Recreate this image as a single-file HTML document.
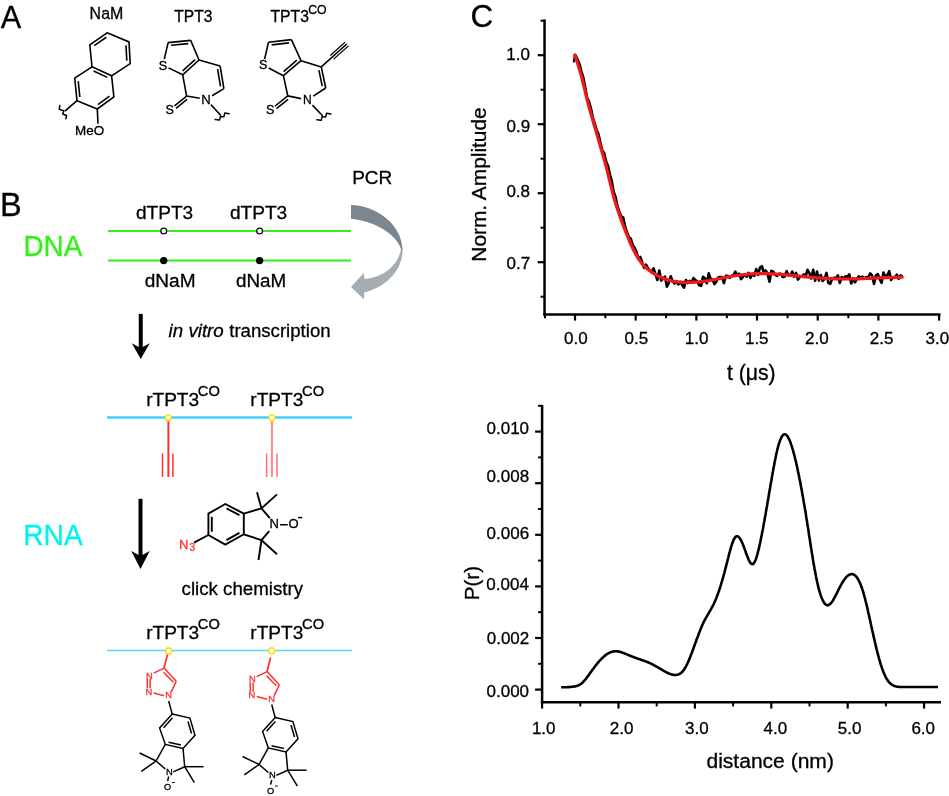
<!DOCTYPE html>
<html><head><meta charset="utf-8"><style>
html,body{margin:0;padding:0;background:#fff;width:949px;height:796px;overflow:hidden}
svg{display:block;will-change:transform}
text{font-family:"Liberation Sans",sans-serif}
</style></head><body>
<svg width="949" height="796" viewBox="0 0 949 796" font-family="Liberation Sans, sans-serif">
<rect width="949" height="796" fill="#fff"/>
<text transform="translate(0.69 27.50) scale(1 1.0)" font-size="30.69" fill="#000" stroke="#000" stroke-width="0.3">A</text>
<text transform="translate(0.09 215.80) scale(1 1.0)" font-size="32.58" fill="#000" stroke="#000" stroke-width="0.3">B</text>
<text transform="translate(470.40 27.30) scale(1 1.0)" font-size="31.42" fill="#000" stroke="#000" stroke-width="0.3">C</text>
<text transform="translate(89.62 18.83) scale(1 1.0)" font-size="15.95" fill="#000" stroke="#000" stroke-width="0.3">NaM</text>
<text transform="translate(174.25 21.76) scale(1 1.0)" font-size="15.60" fill="#000" stroke="#000" stroke-width="0.3">TPT3</text>
<text transform="translate(270.45 21.58) scale(1 1.0)" font-size="15.77" fill="#000" stroke="#000" stroke-width="0.3">TPT3</text>
<text transform="translate(308.18 13.50) scale(1 1.0)" font-size="12.25" fill="#000" stroke="#000" stroke-width="0.3">CO</text>
<path d="M107.10 32.80 L129.00 41.90 L130.20 63.70 L111.60 75.80 L92.00 66.80 L89.80 44.90 Z" fill="none" stroke="#000" stroke-width="1.6" stroke-linejoin="miter"/>
<path d="M111.60 75.80 L113.90 96.90 L97.30 109.00 L77.00 100.70 L74.70 78.10 L92.00 66.80" fill="none" stroke="#000" stroke-width="1.6" stroke-linejoin="miter"/>
<line x1="94.23" y1="45.71" x2="106.34" y2="37.24" stroke="#000" stroke-width="1.6" stroke-linecap="butt"/>
<line x1="125.98" y1="45.35" x2="126.82" y2="60.61" stroke="#000" stroke-width="1.6" stroke-linecap="butt"/>
<line x1="93.60" y1="71.06" x2="107.32" y2="77.36" stroke="#000" stroke-width="1.6" stroke-linecap="butt"/>
<line x1="79.84" y1="96.99" x2="78.23" y2="81.17" stroke="#000" stroke-width="1.6" stroke-linecap="butt"/>
<line x1="109.53" y1="96.13" x2="97.91" y2="104.60" stroke="#000" stroke-width="1.6" stroke-linecap="butt"/>
<line x1="77.00" y1="100.70" x2="64.90" y2="111.10" stroke="#000" stroke-width="1.6" stroke-linecap="butt"/>
<path d="M59.84 105.4 L59.2 109.35 L63.8 110.7 L62.7 114.0 L66.66 115.5 L65.8 118.8" fill="none" stroke="#000" stroke-width="1.5" stroke-linejoin="round" stroke-linecap="round"/>
<line x1="97.30" y1="109.00" x2="98.00" y2="123.70" stroke="#000" stroke-width="1.6" stroke-linecap="butt"/>
<text transform="translate(75.00 135.30) scale(1 1.0)" font-size="13.45" fill="#000" stroke="#000" stroke-width="0.3">MeO</text>
<line x1="168.10" y1="42.60" x2="190.70" y2="40.40" stroke="#000" stroke-width="1.6" stroke-linecap="butt"/>
<line x1="190.70" y1="40.40" x2="199.00" y2="60.00" stroke="#000" stroke-width="1.6" stroke-linecap="butt"/>
<line x1="199.00" y1="60.00" x2="182.70" y2="74.80" stroke="#000" stroke-width="1.6" stroke-linecap="butt"/>
<line x1="182.70" y1="74.80" x2="168.48" y2="67.90" stroke="#000" stroke-width="1.6" stroke-linecap="butt"/>
<line x1="164.29" y1="59.16" x2="168.10" y2="42.60" stroke="#000" stroke-width="1.6" stroke-linecap="butt"/>
<line x1="171.10" y1="45.32" x2="188.28" y2="43.65" stroke="#000" stroke-width="1.6" stroke-linecap="butt"/>
<line x1="195.03" y1="59.55" x2="182.64" y2="70.80" stroke="#000" stroke-width="1.6" stroke-linecap="butt"/>
<line x1="199.00" y1="60.00" x2="220.10" y2="66.00" stroke="#000" stroke-width="1.6" stroke-linecap="butt"/>
<line x1="220.10" y1="66.00" x2="223.90" y2="88.60" stroke="#000" stroke-width="1.6" stroke-linecap="butt"/>
<line x1="223.90" y1="88.60" x2="212.05" y2="95.70" stroke="#000" stroke-width="1.6" stroke-linecap="butt"/>
<line x1="199.74" y1="98.25" x2="186.60" y2="96.05" stroke="#000" stroke-width="1.6" stroke-linecap="butt"/>
<line x1="186.60" y1="96.05" x2="182.70" y2="74.80" stroke="#000" stroke-width="1.6" stroke-linecap="butt"/>
<line x1="217.60" y1="69.21" x2="220.49" y2="86.39" stroke="#000" stroke-width="1.6" stroke-linecap="butt"/>
<line x1="186.60" y1="96.05" x2="174.46" y2="105.92" stroke="#000" stroke-width="1.6" stroke-linecap="butt"/>
<line x1="186.97" y1="99.48" x2="176.04" y2="108.36" stroke="#000" stroke-width="1.6" stroke-linecap="butt"/>
<text transform="translate(158.70 69.54) scale(1 1.0)" font-size="12.60" fill="#000" stroke="#000" stroke-width="0.3">S</text>
<text transform="translate(165.60 114.04) scale(1 1.0)" font-size="12.60" fill="#000" stroke="#000" stroke-width="0.3">S</text>
<text transform="translate(201.28 103.84) scale(1 1.0)" font-size="13.20" fill="#000" stroke="#000" stroke-width="0.3">N</text>
<line x1="210.91" y1="104.62" x2="220.85" y2="115.50" stroke="#000" stroke-width="1.6" stroke-linecap="butt"/>
<path d="M215.10 119.45 L219.50 120.10 L220.40 116.40 L223.90 116.80 L224.80 113.10 L229.20 113.70" fill="none" stroke="#000" stroke-width="1.5" stroke-linejoin="round" stroke-linecap="round"/>
<line x1="268.50" y1="42.20" x2="291.40" y2="39.60" stroke="#000" stroke-width="1.6" stroke-linecap="butt"/>
<line x1="291.40" y1="39.60" x2="301.00" y2="60.70" stroke="#000" stroke-width="1.6" stroke-linecap="butt"/>
<line x1="301.00" y1="60.70" x2="283.40" y2="75.70" stroke="#000" stroke-width="1.6" stroke-linecap="butt"/>
<line x1="283.40" y1="75.70" x2="268.69" y2="67.98" stroke="#000" stroke-width="1.6" stroke-linecap="butt"/>
<line x1="264.60" y1="59.06" x2="268.50" y2="42.20" stroke="#000" stroke-width="1.6" stroke-linecap="butt"/>
<line x1="271.59" y1="44.87" x2="288.99" y2="42.89" stroke="#000" stroke-width="1.6" stroke-linecap="butt"/>
<line x1="296.94" y1="60.22" x2="283.57" y2="71.62" stroke="#000" stroke-width="1.6" stroke-linecap="butt"/>
<line x1="301.00" y1="60.70" x2="321.30" y2="66.90" stroke="#000" stroke-width="1.6" stroke-linecap="butt"/>
<line x1="321.30" y1="66.90" x2="325.70" y2="88.00" stroke="#000" stroke-width="1.6" stroke-linecap="butt"/>
<line x1="325.70" y1="88.00" x2="313.26" y2="96.12" stroke="#000" stroke-width="1.6" stroke-linecap="butt"/>
<line x1="301.13" y1="98.65" x2="287.80" y2="95.90" stroke="#000" stroke-width="1.6" stroke-linecap="butt"/>
<line x1="287.80" y1="95.90" x2="283.40" y2="75.70" stroke="#000" stroke-width="1.6" stroke-linecap="butt"/>
<line x1="318.89" y1="70.04" x2="322.24" y2="86.08" stroke="#000" stroke-width="1.6" stroke-linecap="butt"/>
<line x1="287.80" y1="95.90" x2="274.88" y2="106.25" stroke="#000" stroke-width="1.6" stroke-linecap="butt"/>
<line x1="288.06" y1="99.41" x2="276.44" y2="108.72" stroke="#000" stroke-width="1.6" stroke-linecap="butt"/>
<text transform="translate(259.00 69.44) scale(1 1.0)" font-size="12.60" fill="#000" stroke="#000" stroke-width="0.3">S</text>
<text transform="translate(266.00 114.34) scale(1 1.0)" font-size="12.60" fill="#000" stroke="#000" stroke-width="0.3">S</text>
<text transform="translate(303.06 104.08) scale(1 1.0)" font-size="12.00" fill="#000" stroke="#000" stroke-width="0.3">N</text>
<line x1="312.40" y1="105.13" x2="322.60" y2="115.70" stroke="#000" stroke-width="1.6" stroke-linecap="butt"/>
<path d="M316.85 119.65 L321.25 120.30 L322.15 116.60 L325.65 117.00 L326.55 113.30 L330.95 113.90" fill="none" stroke="#000" stroke-width="1.5" stroke-linejoin="round" stroke-linecap="round"/>
<line x1="321.30" y1="66.90" x2="346.80" y2="44.00" stroke="#000" stroke-width="1.6" stroke-linecap="butt"/>
<line x1="330.34" y1="55.42" x2="345.13" y2="42.14" stroke="#000" stroke-width="1.3" stroke-linecap="butt"/>
<line x1="333.68" y1="59.14" x2="348.47" y2="45.86" stroke="#000" stroke-width="1.3" stroke-linecap="butt"/>
<text transform="translate(23.46 256.00) scale(1 1.05)" font-size="27.89" fill="#32f018" stroke="#32f018" stroke-width="0.3">DNA</text>
<text transform="translate(23.35 544.80) scale(1 1.04)" font-size="28.09" fill="#00f2f2" stroke="#00f2f2" stroke-width="0.3">RNA</text>
<line x1="108.00" y1="230.90" x2="351.00" y2="230.90" stroke="#32f018" stroke-width="2.0" stroke-linecap="butt"/>
<line x1="108.00" y1="260.40" x2="351.00" y2="260.40" stroke="#32f018" stroke-width="2.0" stroke-linecap="butt"/>
<circle cx="163.7" cy="231.1" r="2.9" fill="#fff" stroke="#000" stroke-width="1.2"/>
<circle cx="163.7" cy="260.6" r="3.7" fill="#000"/>
<circle cx="259.6" cy="231.1" r="2.9" fill="#fff" stroke="#000" stroke-width="1.2"/>
<circle cx="259.6" cy="260.6" r="3.7" fill="#000"/>
<text transform="translate(136.00 218.97) scale(1 1.0)" font-size="19.04" fill="#000" stroke="#000" stroke-width="0.3">dTPT3</text>
<text transform="translate(229.90 218.90) scale(1 1.0)" font-size="19.11" fill="#000" stroke="#000" stroke-width="0.3">dTPT3</text>
<text transform="translate(144.76 286.84) scale(1 1.0)" font-size="19.06" fill="#000" stroke="#000" stroke-width="0.3">dNaM</text>
<text transform="translate(235.91 286.80) scale(1 1.0)" font-size="18.83" fill="#000" stroke="#000" stroke-width="0.3">dNaM</text>
<text transform="translate(352.14 183.84) scale(1 1.0)" font-size="19.01" fill="#000" stroke="#000" stroke-width="0.3">PCR</text>
<path d="M351 204.9 C377 205.5 402.5 225 402.5 250.3 L401.3 250.3 C399.5 239 380 221.5 351 218.8 Z" fill="#7a8790"/>
<path d="M402.5 249.8 C403 270 385 288 364.4 292.3 L363.8 299.25 L351 286.9 L363.8 272.9 L364.4 279.1 C381 277.5 397.5 267.5 400.8 249.8 Z" fill="#a3adb3"/>
<line x1="140.75" y1="313.90" x2="140.75" y2="349.00" stroke="#000" stroke-width="4.0" stroke-linecap="butt"/>
<path d="M131.75 343.20 L140.75 358.90 L149.75 343.20 L140.75 348.00 Z" fill="#000"/>
<line x1="140.50" y1="498.80" x2="140.50" y2="557.10" stroke="#000" stroke-width="4.0" stroke-linecap="butt"/>
<path d="M131.30 551.10 L140.50 568.90 L149.70 551.10 L140.50 556.10 Z" fill="#000"/>
<text transform="translate(168.60 336.80) scale(1 1.0)" font-size="18.74" fill="#000" font-style="italic" stroke="#000" stroke-width="0.3">in vitro</text>
<text transform="translate(229.22 336.80) scale(1 1.0)" font-size="18.63" fill="#000" stroke="#000" stroke-width="0.3">transcription</text>
<text transform="translate(146.13 405.80) scale(1 1.0)" font-size="19.08" fill="#000" stroke="#000" stroke-width="0.3">rTPT3</text>
<text transform="translate(197.85 396.25) scale(1 1.0)" font-size="14.70" fill="#000" stroke="#000" stroke-width="0.3">CO</text>
<text transform="translate(250.33 405.80) scale(1 1.0)" font-size="19.08" fill="#000" stroke="#000" stroke-width="0.3">rTPT3</text>
<text transform="translate(302.05 396.25) scale(1 1.0)" font-size="14.70" fill="#000" stroke="#000" stroke-width="0.3">CO</text>
<line x1="107.00" y1="417.60" x2="352.00" y2="417.60" stroke="#40d0f8" stroke-width="2.5" stroke-linecap="butt"/>
<line x1="168.40" y1="421.00" x2="168.40" y2="477.00" stroke="#ff3030" stroke-width="2.0" stroke-linecap="butt"/>
<line x1="162.50" y1="453.40" x2="162.50" y2="477.00" stroke="#ff3030" stroke-width="1.5" stroke-linecap="butt"/>
<line x1="172.90" y1="453.40" x2="172.90" y2="477.00" stroke="#ff3030" stroke-width="1.5" stroke-linecap="butt"/>
<circle cx="168.4" cy="417.8" r="2.8" fill="#fff" stroke="#ffe014" stroke-width="1.7"/>
<line x1="271.90" y1="421.00" x2="271.90" y2="477.00" stroke="#ff8a8a" stroke-width="2.0" stroke-linecap="butt"/>
<line x1="266.65" y1="453.40" x2="266.65" y2="477.00" stroke="#ff7070" stroke-width="1.5" stroke-linecap="butt"/>
<line x1="277.00" y1="453.40" x2="277.00" y2="477.00" stroke="#ff7070" stroke-width="1.5" stroke-linecap="butt"/>
<circle cx="271.9" cy="417.8" r="2.8" fill="#fff" stroke="#ffe014" stroke-width="1.7"/>
<path d="M225.30 504.00 L243.80 513.60 L243.80 534.30 L225.30 544.60 L208.40 535.00 L208.40 513.60 Z" fill="none" stroke="#000" stroke-width="1.9" stroke-linejoin="miter"/>
<line x1="226.51" y1="508.46" x2="239.46" y2="515.18" stroke="#000" stroke-width="1.9" stroke-linecap="butt"/>
<line x1="239.37" y1="532.87" x2="226.42" y2="540.08" stroke="#000" stroke-width="1.9" stroke-linecap="butt"/>
<line x1="211.80" y1="531.79" x2="211.80" y2="516.81" stroke="#000" stroke-width="1.9" stroke-linecap="butt"/>
<line x1="243.80" y1="513.60" x2="261.50" y2="508.40" stroke="#000" stroke-width="1.9" stroke-linecap="butt"/>
<line x1="261.50" y1="540.20" x2="243.80" y2="534.30" stroke="#000" stroke-width="1.9" stroke-linecap="butt"/>
<line x1="261.50" y1="508.40" x2="269.85" y2="518.20" stroke="#000" stroke-width="1.9" stroke-linecap="butt"/>
<line x1="269.20" y1="531.10" x2="261.50" y2="540.20" stroke="#000" stroke-width="1.9" stroke-linecap="butt"/>
<line x1="261.50" y1="508.40" x2="257.00" y2="492.20" stroke="#000" stroke-width="1.9" stroke-linecap="butt"/>
<line x1="261.50" y1="508.40" x2="277.00" y2="494.40" stroke="#000" stroke-width="1.9" stroke-linecap="butt"/>
<line x1="261.50" y1="540.20" x2="258.50" y2="560.00" stroke="#000" stroke-width="1.9" stroke-linecap="butt"/>
<line x1="261.50" y1="540.20" x2="277.00" y2="554.20" stroke="#000" stroke-width="1.9" stroke-linecap="butt"/>
<text transform="translate(269.60 528.27) scale(1 1.0)" font-size="13.00" fill="#000" stroke="#000" stroke-width="0.3">N</text>
<line x1="280.00" y1="524.75" x2="287.80" y2="524.75" stroke="#000" stroke-width="1.5" stroke-linecap="butt"/>
<text transform="translate(288.40 528.38) scale(1 1.0)" font-size="13.00" fill="#000" stroke="#000" stroke-width="0.3">O</text>
<line x1="298.10" y1="517.60" x2="302.30" y2="517.60" stroke="#000" stroke-width="1.5" stroke-linecap="butt"/>
<line x1="208.40" y1="535.00" x2="194.00" y2="542.60" stroke="#000" stroke-width="1.9" stroke-linecap="butt"/>
<text transform="translate(179.10 549.32) scale(1 1.0)" font-size="13.00" fill="#ff3030" stroke="#ff3030" stroke-width="0.3">N</text>
<text transform="translate(189.45 550.74) scale(1 1.0)" font-size="10.00" fill="#ff3030" stroke="#ff3030" stroke-width="0.3">3</text>
<text transform="translate(181.61 594.90) scale(1 1.0)" font-size="18.68" fill="#000" stroke="#000" stroke-width="0.3">click chemistry</text>
<text transform="translate(146.13 638.60) scale(1 1.0)" font-size="19.08" fill="#000" stroke="#000" stroke-width="0.3">rTPT3</text>
<text transform="translate(197.85 628.90) scale(1 1.0)" font-size="14.70" fill="#000" stroke="#000" stroke-width="0.3">CO</text>
<text transform="translate(250.33 638.60) scale(1 1.0)" font-size="19.08" fill="#000" stroke="#000" stroke-width="0.3">rTPT3</text>
<text transform="translate(302.05 628.90) scale(1 1.0)" font-size="14.70" fill="#000" stroke="#000" stroke-width="0.3">CO</text>
<line x1="107.00" y1="650.55" x2="352.00" y2="650.55" stroke="#5ad8fa" stroke-width="1.6" stroke-linecap="butt"/>
<line x1="167.60" y1="654.10" x2="164.00" y2="668.10" stroke="#ff3030" stroke-width="1.8" stroke-linecap="butt"/>
<line x1="164.00" y1="668.10" x2="153.70" y2="673.20" stroke="#ff3030" stroke-width="1.5" stroke-linecap="butt"/>
<line x1="164.00" y1="668.10" x2="176.30" y2="681.30" stroke="#ff3030" stroke-width="1.5" stroke-linecap="butt"/>
<line x1="163.50" y1="672.30" x2="173.40" y2="682.20" stroke="#ff3030" stroke-width="1.5" stroke-linecap="butt"/>
<line x1="176.30" y1="681.30" x2="171.10" y2="692.10" stroke="#ff3030" stroke-width="1.5" stroke-linecap="butt"/>
<line x1="164.00" y1="695.80" x2="153.70" y2="693.00" stroke="#ff3030" stroke-width="1.5" stroke-linecap="butt"/>
<line x1="147.30" y1="678.90" x2="147.30" y2="688.30" stroke="#ff3030" stroke-width="1.5" stroke-linecap="butt"/>
<line x1="150.10" y1="678.90" x2="150.10" y2="688.30" stroke="#ff3030" stroke-width="1.5" stroke-linecap="butt"/>
<text transform="translate(146.00 678.83) scale(1 1.0)" font-size="9.40" fill="#ff3030" stroke="#ff3030" stroke-width="0.3">N</text>
<text transform="translate(145.60 694.83) scale(1 1.0)" font-size="9.40" fill="#ff3030" stroke="#ff3030" stroke-width="0.3">N</text>
<text transform="translate(165.30 698.13) scale(1 1.0)" font-size="9.40" fill="#ff3030" stroke="#ff3030" stroke-width="0.3">N</text>
<line x1="168.70" y1="701.00" x2="172.20" y2="714.10" stroke="#000" stroke-width="1.5" stroke-linecap="butt"/>
<path d="M172.20 714.10 L189.90 718.10 L195.00 735.30 L183.00 748.40 L165.30 744.40 L159.60 727.90 Z" fill="none" stroke="#000" stroke-width="1.5" stroke-linejoin="miter"/>
<line x1="172.38" y1="718.06" x2="163.56" y2="727.72" stroke="#000" stroke-width="1.5" stroke-linecap="butt"/>
<line x1="187.98" y1="721.48" x2="191.55" y2="733.52" stroke="#000" stroke-width="1.5" stroke-linecap="butt"/>
<line x1="180.96" y1="745.07" x2="168.57" y2="742.27" stroke="#000" stroke-width="1.5" stroke-linecap="butt"/>
<line x1="165.30" y1="744.40" x2="156.10" y2="761.00" stroke="#000" stroke-width="1.5" stroke-linecap="butt"/>
<line x1="184.70" y1="766.70" x2="183.00" y2="748.40" stroke="#000" stroke-width="1.5" stroke-linecap="butt"/>
<line x1="156.10" y1="761.00" x2="165.30" y2="769.00" stroke="#000" stroke-width="1.5" stroke-linecap="butt"/>
<line x1="173.30" y1="771.90" x2="184.70" y2="766.70" stroke="#000" stroke-width="1.5" stroke-linecap="butt"/>
<line x1="156.10" y1="761.00" x2="139.60" y2="753.00" stroke="#000" stroke-width="1.5" stroke-linecap="butt"/>
<line x1="156.10" y1="761.00" x2="141.30" y2="771.30" stroke="#000" stroke-width="1.5" stroke-linecap="butt"/>
<line x1="184.70" y1="766.70" x2="203.60" y2="766.70" stroke="#000" stroke-width="1.5" stroke-linecap="butt"/>
<line x1="184.70" y1="766.70" x2="194.40" y2="782.70" stroke="#000" stroke-width="1.5" stroke-linecap="butt"/>
<text transform="translate(165.90 774.53) scale(1 1.0)" font-size="9.40" fill="#000" stroke="#000" stroke-width="0.3">N</text>
<line x1="168.70" y1="776.50" x2="167.60" y2="781.00" stroke="#000" stroke-width="1.5" stroke-linecap="butt"/>
<text transform="translate(164.02 790.47) scale(1 1.0)" font-size="9.20" fill="#000" stroke="#000" stroke-width="0.3">O</text>
<line x1="172.00" y1="782.50" x2="174.80" y2="782.50" stroke="#000" stroke-width="1.0" stroke-linecap="butt"/>
<line x1="270.60" y1="657.60" x2="267.00" y2="671.60" stroke="#ff3030" stroke-width="1.8" stroke-linecap="butt"/>
<line x1="267.00" y1="671.60" x2="256.70" y2="676.70" stroke="#ff3030" stroke-width="1.5" stroke-linecap="butt"/>
<line x1="267.00" y1="671.60" x2="279.30" y2="684.80" stroke="#ff3030" stroke-width="1.5" stroke-linecap="butt"/>
<line x1="266.50" y1="675.80" x2="276.40" y2="685.70" stroke="#ff3030" stroke-width="1.5" stroke-linecap="butt"/>
<line x1="279.30" y1="684.80" x2="274.10" y2="695.60" stroke="#ff3030" stroke-width="1.5" stroke-linecap="butt"/>
<line x1="267.00" y1="699.30" x2="256.70" y2="696.50" stroke="#ff3030" stroke-width="1.5" stroke-linecap="butt"/>
<line x1="250.30" y1="682.40" x2="250.30" y2="691.80" stroke="#ff3030" stroke-width="1.5" stroke-linecap="butt"/>
<line x1="253.10" y1="682.40" x2="253.10" y2="691.80" stroke="#ff3030" stroke-width="1.5" stroke-linecap="butt"/>
<text transform="translate(249.00 682.33) scale(1 1.0)" font-size="9.40" fill="#ff3030" stroke="#ff3030" stroke-width="0.3">N</text>
<text transform="translate(248.60 698.33) scale(1 1.0)" font-size="9.40" fill="#ff3030" stroke="#ff3030" stroke-width="0.3">N</text>
<text transform="translate(268.30 701.63) scale(1 1.0)" font-size="9.40" fill="#ff3030" stroke="#ff3030" stroke-width="0.3">N</text>
<line x1="271.70" y1="704.50" x2="275.20" y2="717.60" stroke="#000" stroke-width="1.5" stroke-linecap="butt"/>
<path d="M275.20 717.60 L292.90 721.60 L298.00 738.80 L286.00 751.90 L268.30 747.90 L262.60 731.40 Z" fill="none" stroke="#000" stroke-width="1.5" stroke-linejoin="miter"/>
<line x1="275.38" y1="721.56" x2="266.56" y2="731.22" stroke="#000" stroke-width="1.5" stroke-linecap="butt"/>
<line x1="290.98" y1="724.98" x2="294.55" y2="737.02" stroke="#000" stroke-width="1.5" stroke-linecap="butt"/>
<line x1="283.96" y1="748.57" x2="271.57" y2="745.77" stroke="#000" stroke-width="1.5" stroke-linecap="butt"/>
<line x1="268.30" y1="747.90" x2="259.10" y2="764.50" stroke="#000" stroke-width="1.5" stroke-linecap="butt"/>
<line x1="287.70" y1="770.20" x2="286.00" y2="751.90" stroke="#000" stroke-width="1.5" stroke-linecap="butt"/>
<line x1="259.10" y1="764.50" x2="268.30" y2="772.50" stroke="#000" stroke-width="1.5" stroke-linecap="butt"/>
<line x1="276.30" y1="775.40" x2="287.70" y2="770.20" stroke="#000" stroke-width="1.5" stroke-linecap="butt"/>
<line x1="259.10" y1="764.50" x2="242.60" y2="756.50" stroke="#000" stroke-width="1.5" stroke-linecap="butt"/>
<line x1="259.10" y1="764.50" x2="244.30" y2="774.80" stroke="#000" stroke-width="1.5" stroke-linecap="butt"/>
<line x1="287.70" y1="770.20" x2="306.60" y2="770.20" stroke="#000" stroke-width="1.5" stroke-linecap="butt"/>
<line x1="287.70" y1="770.20" x2="297.40" y2="786.20" stroke="#000" stroke-width="1.5" stroke-linecap="butt"/>
<text transform="translate(268.90 778.03) scale(1 1.0)" font-size="9.40" fill="#000" stroke="#000" stroke-width="0.3">N</text>
<line x1="271.70" y1="780.00" x2="270.60" y2="784.50" stroke="#000" stroke-width="1.5" stroke-linecap="butt"/>
<text transform="translate(267.02 793.97) scale(1 1.0)" font-size="9.20" fill="#000" stroke="#000" stroke-width="0.3">O</text>
<line x1="275.00" y1="786.00" x2="277.80" y2="786.00" stroke="#000" stroke-width="1.0" stroke-linecap="butt"/>
<circle cx="168.7" cy="650.9" r="3.0" fill="#fff" stroke="#ffe014" stroke-width="1.6"/>
<circle cx="271.7" cy="650.9" r="3.0" fill="#fff" stroke="#ffe014" stroke-width="1.6"/>
<line x1="544.55" y1="19.50" x2="544.55" y2="315.60" stroke="#000" stroke-width="2.5" stroke-linecap="butt"/>
<line x1="543.30" y1="314.40" x2="940.50" y2="314.40" stroke="#000" stroke-width="2.5" stroke-linecap="butt"/>
<line x1="537.65" y1="55.20" x2="544.55" y2="55.20" stroke="#000" stroke-width="2.2" stroke-linecap="butt"/>
<text transform="translate(506.33 59.75) scale(1 1.0)" font-size="17.00" fill="#000" stroke="#000" stroke-width="0.3">1.0</text>
<line x1="537.65" y1="124.20" x2="544.55" y2="124.20" stroke="#000" stroke-width="2.2" stroke-linecap="butt"/>
<text transform="translate(506.47 131.55) scale(1 1.0)" font-size="17.00" fill="#000" stroke="#000" stroke-width="0.3">0.9</text>
<line x1="537.65" y1="193.20" x2="544.55" y2="193.20" stroke="#000" stroke-width="2.2" stroke-linecap="butt"/>
<text transform="translate(506.41 197.05) scale(1 1.0)" font-size="17.00" fill="#000" stroke="#000" stroke-width="0.3">0.8</text>
<line x1="537.65" y1="262.20" x2="544.55" y2="262.20" stroke="#000" stroke-width="2.2" stroke-linecap="butt"/>
<text transform="translate(506.52 268.80) scale(1 1.0)" font-size="17.00" fill="#000" stroke="#000" stroke-width="0.3">0.7</text>
<line x1="540.55" y1="20.70" x2="544.55" y2="20.70" stroke="#000" stroke-width="2.0" stroke-linecap="butt"/>
<line x1="540.55" y1="89.70" x2="544.55" y2="89.70" stroke="#000" stroke-width="2.0" stroke-linecap="butt"/>
<line x1="540.55" y1="158.70" x2="544.55" y2="158.70" stroke="#000" stroke-width="2.0" stroke-linecap="butt"/>
<line x1="540.55" y1="227.70" x2="544.55" y2="227.70" stroke="#000" stroke-width="2.0" stroke-linecap="butt"/>
<line x1="540.55" y1="296.70" x2="544.55" y2="296.70" stroke="#000" stroke-width="2.0" stroke-linecap="butt"/>
<line x1="575.00" y1="314.40" x2="575.00" y2="320.60" stroke="#000" stroke-width="2.2" stroke-linecap="butt"/>
<text transform="translate(564.08 343.85) scale(1 1.0)" font-size="17.00" fill="#000" stroke="#000" stroke-width="0.3">0.0</text>
<line x1="635.68" y1="314.40" x2="635.68" y2="320.60" stroke="#000" stroke-width="2.2" stroke-linecap="butt"/>
<text transform="translate(624.61 343.85) scale(1 1.0)" font-size="17.00" fill="#000" stroke="#000" stroke-width="0.3">0.5</text>
<line x1="696.36" y1="314.40" x2="696.36" y2="320.60" stroke="#000" stroke-width="2.2" stroke-linecap="butt"/>
<text transform="translate(684.87 343.85) scale(1 1.0)" font-size="17.00" fill="#000" stroke="#000" stroke-width="0.3">1.0</text>
<line x1="757.04" y1="314.40" x2="757.04" y2="320.60" stroke="#000" stroke-width="2.2" stroke-linecap="butt"/>
<text transform="translate(744.94 343.76) scale(1 1.0)" font-size="17.00" fill="#000" stroke="#000" stroke-width="0.3">1.5</text>
<line x1="817.72" y1="314.40" x2="817.72" y2="320.60" stroke="#000" stroke-width="2.2" stroke-linecap="butt"/>
<text transform="translate(804.99 343.85) scale(1 1.0)" font-size="17.00" fill="#000" stroke="#000" stroke-width="0.3">2.0</text>
<line x1="878.40" y1="314.40" x2="878.40" y2="320.60" stroke="#000" stroke-width="2.2" stroke-linecap="butt"/>
<text transform="translate(869.71 343.85) scale(1 1.0)" font-size="17.00" fill="#000" stroke="#000" stroke-width="0.3">2.5</text>
<line x1="939.08" y1="314.40" x2="939.08" y2="320.60" stroke="#000" stroke-width="2.2" stroke-linecap="butt"/>
<text transform="translate(925.59 343.85) scale(1 1.0)" font-size="17.00" fill="#000" stroke="#000" stroke-width="0.3">3.0</text>
<line x1="545.00" y1="314.40" x2="545.00" y2="318.20" stroke="#000" stroke-width="2.0" stroke-linecap="butt"/>
<line x1="605.35" y1="314.40" x2="605.35" y2="318.20" stroke="#000" stroke-width="2.0" stroke-linecap="butt"/>
<line x1="666.10" y1="314.40" x2="666.10" y2="318.20" stroke="#000" stroke-width="2.0" stroke-linecap="butt"/>
<line x1="726.85" y1="314.40" x2="726.85" y2="318.20" stroke="#000" stroke-width="2.0" stroke-linecap="butt"/>
<line x1="787.60" y1="314.40" x2="787.60" y2="318.20" stroke="#000" stroke-width="2.0" stroke-linecap="butt"/>
<line x1="848.35" y1="314.40" x2="848.35" y2="318.20" stroke="#000" stroke-width="2.0" stroke-linecap="butt"/>
<text transform="translate(726.88 379.50) scale(1 1.0)" font-size="21.21" fill="#000" stroke="#000" stroke-width="0.3">t (μs)</text>
<text x="0" y="0" font-size="20.9" text-anchor="middle" transform="translate(485.9 184.5) rotate(-90)" stroke="#000" stroke-width="0.3">Norm. Amplitude</text>
<path d="M573.8 55.0L575.7 55.6L577.6 59.5L579.5 64.2L581.4 71.4L583.3 77.5L585.2 87.2L587.1 97.6L589.0 101.5L590.9 108.3L592.8 117.3L594.7 123.6L596.6 129.7L598.5 134.2L600.4 142.5L602.3 150.5L604.2 153.0L606.1 161.5L608.0 165.7L609.9 174.5L611.8 181.1L613.7 192.0L615.6 197.0L617.5 206.4L619.4 212.0L621.3 216.7L623.2 217.4L625.1 226.4L627.0 232.3L628.9 237.3L630.8 238.6L632.7 244.9L634.6 247.9L636.5 251.9L638.4 259.0L640.3 256.9L642.2 262.3L644.1 267.9L646.0 264.6L647.9 268.1L649.8 270.4L651.7 271.7L653.6 268.4L655.5 274.3L657.4 280.0L659.3 270.5L661.2 280.6L663.1 278.7L665.0 276.6L666.9 286.8L668.8 282.9L670.7 276.3L672.6 281.3L674.5 283.5L676.4 281.0L678.3 284.4L680.2 281.9L682.1 284.7L684.0 287.6L685.9 280.0L687.8 283.2L689.7 280.8L691.6 282.8L693.5 278.0L695.4 280.1L697.3 281.3L699.2 285.1L701.1 285.8L703.0 276.7L704.9 278.3L706.8 283.2L708.7 273.4L710.6 278.6L712.5 279.6L714.4 284.1L716.3 281.7L718.2 277.6L720.1 277.1L722.0 277.1L723.9 283.2L725.8 275.8L727.7 275.9L729.6 277.9L731.5 275.9L733.4 275.3L735.3 271.7L737.2 275.4L739.1 273.6L741.0 279.1L742.9 277.0L744.8 274.4L746.7 276.7L748.6 272.9L750.5 277.8L752.4 273.8L754.3 275.8L756.2 269.0L758.1 274.8L760.0 267.5L761.9 266.2L763.8 272.5L765.7 270.4L767.6 274.2L769.5 281.8L771.4 270.8L773.3 271.7L775.2 274.8L777.1 275.9L779.0 273.7L780.9 273.7L782.8 277.1L784.7 276.7L786.6 271.2L788.5 274.9L790.4 275.5L792.3 271.7L794.2 276.7L796.1 272.8L798.0 279.6L799.9 277.0L801.8 276.8L803.7 274.5L805.6 276.4L807.5 269.8L809.4 273.1L811.3 278.6L813.2 269.8L815.1 280.7L817.0 271.5L818.9 280.6L820.8 275.0L822.7 281.0L824.6 278.8L826.5 272.9L828.4 283.0L830.3 283.8L832.2 278.5L834.1 277.8L836.0 278.3L837.9 275.4L839.8 282.9L841.7 277.0L843.6 278.8L845.5 276.2L847.4 276.8L849.3 274.4L851.2 283.5L853.1 278.4L855.0 282.4L856.9 278.9L858.8 276.3L860.7 277.5L862.6 276.6L864.5 278.6L866.4 277.1L868.3 277.3L870.2 273.3L872.1 275.3L874.0 284.0L875.9 275.6L877.8 274.1L879.7 279.0L881.6 282.8L883.5 272.5L885.4 276.9L887.3 275.3L889.2 271.2L891.1 280.1L893.0 277.3L894.9 277.6L896.8 274.6L898.7 278.9L900.6 275.3L902.5 276.7" fill="none" stroke="#000" stroke-width="2.6" stroke-linejoin="round"/>
<path d="M573.7 62.3 L574.3 57.8 L575.3 55.0" fill="none" stroke="#000" stroke-width="2.0"/>
<path d="M574.8 55.0L575.9 58.2L577.0 61.5L578.1 64.9L579.2 68.5L580.3 72.2L581.4 76.2L582.5 80.5L583.6 84.9L584.7 89.4L585.7 93.9L586.8 98.4L587.9 102.7L589.0 106.8L590.1 110.7L591.2 114.6L592.3 118.4L593.4 122.2L594.5 126.0L595.6 129.8L596.7 133.6L597.8 137.4L598.9 141.2L600.0 145.0L601.1 148.7L602.2 152.5L603.3 156.3L604.4 160.2L605.5 164.1L606.6 168.2L607.6 172.4L608.7 176.8L609.8 181.3L610.9 185.7L612.0 190.2L613.1 194.5L614.2 198.5L615.3 202.3L616.4 205.9L617.5 209.3L618.6 212.6L619.7 215.7L620.8 218.7L621.9 221.8L623.0 224.7L624.1 227.6L625.2 230.5L626.3 233.3L627.4 236.0L628.5 238.7L629.5 241.3L630.6 243.8L631.7 246.2L632.8 248.5L633.9 250.7L635.0 252.8L636.1 254.8L637.2 256.7L638.3 258.5L639.4 260.1L640.5 261.7L641.6 263.1L642.7 264.4L643.8 265.6L644.9 266.7L646.0 267.7L647.1 268.7L648.2 269.6L649.3 270.5L650.4 271.3L651.4 272.1L652.5 272.8L653.6 273.5L654.7 274.2L655.8 274.8L656.9 275.4L658.0 276.0L659.1 276.5L660.2 277.1L661.3 277.5L662.4 278.0L663.5 278.4L664.6 278.8L665.7 279.2L666.8 279.5L667.9 279.9L669.0 280.2L670.1 280.4L671.2 280.7L672.3 281.0L673.3 281.2L674.4 281.4L675.5 281.6L676.6 281.7L677.7 281.9L678.8 282.0L679.9 282.1L681.0 282.2L682.1 282.3L683.2 282.3L684.3 282.4L685.4 282.4L686.5 282.4L687.6 282.4L688.7 282.4L689.8 282.4L690.9 282.4L692.0 282.4L693.1 282.3L694.2 282.2L695.2 282.2L696.3 282.1L697.4 282.0L698.5 281.9L699.6 281.8L700.7 281.7L701.8 281.6L702.9 281.5L704.0 281.3L705.1 281.2L706.2 281.0L707.3 280.8L708.4 280.7L709.5 280.5L710.6 280.3L711.7 280.1L712.8 279.9L713.9 279.7L715.0 279.5L716.1 279.2L717.1 279.0L718.2 278.8L719.3 278.6L720.4 278.4L721.5 278.1L722.6 277.9L723.7 277.7L724.8 277.5L725.9 277.3L727.0 277.1L728.1 276.9L729.2 276.7L730.3 276.5L731.4 276.3L732.5 276.1L733.6 276.0L734.7 275.8L735.8 275.6L736.9 275.5L738.0 275.3L739.0 275.2L740.1 275.0L741.2 274.9L742.3 274.8L743.4 274.6L744.5 274.5L745.6 274.4L746.7 274.3L747.8 274.2L748.9 274.1L750.0 274.0L751.1 273.9L752.2 273.9L753.3 273.8L754.4 273.7L755.5 273.7L756.6 273.6L757.7 273.6L758.8 273.6L759.9 273.6L760.9 273.6L762.0 273.6L763.1 273.6L764.2 273.6L765.3 273.6L766.4 273.6L767.5 273.6L768.6 273.7L769.7 273.7L770.8 273.8L771.9 273.8L773.0 273.9L774.1 273.9L775.2 274.0L776.3 274.1L777.4 274.2L778.5 274.3L779.6 274.3L780.7 274.4L781.8 274.5L782.8 274.6L783.9 274.7L785.0 274.8L786.1 274.9L787.2 275.0L788.3 275.1L789.4 275.2L790.5 275.3L791.6 275.5L792.7 275.6L793.8 275.7L794.9 275.8L796.0 275.9L797.1 276.0L798.2 276.1L799.3 276.2L800.4 276.3L801.5 276.4L802.6 276.5L803.7 276.7L804.7 276.8L805.8 276.9L806.9 277.0L808.0 277.1L809.1 277.1L810.2 277.2L811.3 277.3L812.4 277.4L813.5 277.5L814.6 277.6L815.7 277.7L816.8 277.8L817.9 277.9L819.0 277.9L820.1 278.0L821.2 278.1L822.3 278.2L823.4 278.2L824.5 278.3L825.6 278.4L826.6 278.4L827.7 278.5L828.8 278.5L829.9 278.6L831.0 278.6L832.1 278.7L833.2 278.7L834.3 278.8L835.4 278.8L836.5 278.9L837.6 278.9L838.7 278.9L839.8 278.9L840.9 279.0L842.0 279.0L843.1 279.0L844.2 279.0L845.3 279.0L846.4 279.0L847.5 279.0L848.5 279.0L849.6 279.0L850.7 279.0L851.8 279.0L852.9 279.0L854.0 278.9L855.1 278.9L856.2 278.9L857.3 278.8L858.4 278.8L859.5 278.8L860.6 278.7L861.7 278.7L862.8 278.6L863.9 278.6L865.0 278.5L866.1 278.5L867.2 278.4L868.3 278.4L869.4 278.3L870.4 278.3L871.5 278.2L872.6 278.2L873.7 278.1L874.8 278.1L875.9 278.0L877.0 277.9L878.1 277.9L879.2 277.9L880.3 277.8L881.4 277.8L882.5 277.7L883.6 277.7L884.7 277.6L885.8 277.6L886.9 277.6L888.0 277.5L889.1 277.5L890.2 277.5L891.3 277.5L892.3 277.4L893.4 277.4L894.5 277.4L895.6 277.3L896.7 277.3L897.8 277.3L898.9 277.3L900.0 277.2L901.1 277.2L902.2 277.2" fill="none" stroke="#f01818" stroke-width="3.2" stroke-linejoin="round" stroke-linecap="round"/>
<line x1="542.10" y1="405.00" x2="542.10" y2="703.50" stroke="#000" stroke-width="2.5" stroke-linecap="butt"/>
<line x1="540.85" y1="702.20" x2="941.00" y2="702.20" stroke="#000" stroke-width="2.5" stroke-linecap="butt"/>
<line x1="535.10" y1="689.60" x2="542.10" y2="689.60" stroke="#000" stroke-width="2.2" stroke-linecap="butt"/>
<text transform="translate(486.52 696.70) scale(1 1.0)" font-size="17.00" fill="#000" stroke="#000" stroke-width="0.3">0.000</text>
<line x1="535.10" y1="638.00" x2="542.10" y2="638.00" stroke="#000" stroke-width="2.2" stroke-linecap="butt"/>
<text transform="translate(486.71 644.45) scale(1 1.0)" font-size="17.00" fill="#000" stroke="#000" stroke-width="0.3">0.002</text>
<line x1="535.10" y1="586.40" x2="542.10" y2="586.40" stroke="#000" stroke-width="2.2" stroke-linecap="butt"/>
<text transform="translate(486.36 590.35) scale(1 1.0)" font-size="17.00" fill="#000" stroke="#000" stroke-width="0.3">0.004</text>
<line x1="535.10" y1="534.80" x2="542.10" y2="534.80" stroke="#000" stroke-width="2.2" stroke-linecap="butt"/>
<text transform="translate(486.61 538.70) scale(1 1.0)" font-size="17.00" fill="#000" stroke="#000" stroke-width="0.3">0.006</text>
<line x1="535.10" y1="483.20" x2="542.10" y2="483.20" stroke="#000" stroke-width="2.2" stroke-linecap="butt"/>
<text transform="translate(486.60 481.90) scale(1 1.0)" font-size="17.00" fill="#000" stroke="#000" stroke-width="0.3">0.008</text>
<line x1="535.10" y1="431.60" x2="542.10" y2="431.60" stroke="#000" stroke-width="2.2" stroke-linecap="butt"/>
<text transform="translate(486.52 433.65) scale(1 1.0)" font-size="17.00" fill="#000" stroke="#000" stroke-width="0.3">0.010</text>
<line x1="538.10" y1="663.80" x2="542.10" y2="663.80" stroke="#000" stroke-width="2.0" stroke-linecap="butt"/>
<line x1="538.10" y1="612.20" x2="542.10" y2="612.20" stroke="#000" stroke-width="2.0" stroke-linecap="butt"/>
<line x1="538.10" y1="560.60" x2="542.10" y2="560.60" stroke="#000" stroke-width="2.0" stroke-linecap="butt"/>
<line x1="538.10" y1="509.00" x2="542.10" y2="509.00" stroke="#000" stroke-width="2.0" stroke-linecap="butt"/>
<line x1="538.10" y1="457.40" x2="542.10" y2="457.40" stroke="#000" stroke-width="2.0" stroke-linecap="butt"/>
<line x1="538.10" y1="405.80" x2="542.10" y2="405.80" stroke="#000" stroke-width="2.0" stroke-linecap="butt"/>
<line x1="542.10" y1="702.20" x2="542.10" y2="708.60" stroke="#000" stroke-width="2.2" stroke-linecap="butt"/>
<text transform="translate(531.92 733.65) scale(1 1.0)" font-size="17.00" fill="#000" stroke="#000" stroke-width="0.3">1.0</text>
<line x1="618.50" y1="702.20" x2="618.50" y2="708.60" stroke="#000" stroke-width="2.2" stroke-linecap="butt"/>
<text transform="translate(609.84 733.65) scale(1 1.0)" font-size="17.00" fill="#000" stroke="#000" stroke-width="0.3">2.0</text>
<line x1="694.90" y1="702.20" x2="694.90" y2="708.60" stroke="#000" stroke-width="2.2" stroke-linecap="butt"/>
<text transform="translate(685.09 733.65) scale(1 1.0)" font-size="17.00" fill="#000" stroke="#000" stroke-width="0.3">3.0</text>
<line x1="771.30" y1="702.20" x2="771.30" y2="708.60" stroke="#000" stroke-width="2.2" stroke-linecap="butt"/>
<text transform="translate(763.47 733.65) scale(1 1.0)" font-size="17.00" fill="#000" stroke="#000" stroke-width="0.3">4.0</text>
<line x1="847.70" y1="702.20" x2="847.70" y2="708.60" stroke="#000" stroke-width="2.2" stroke-linecap="butt"/>
<text transform="translate(837.73 733.65) scale(1 1.0)" font-size="17.00" fill="#000" stroke="#000" stroke-width="0.3">5.0</text>
<line x1="924.10" y1="702.20" x2="924.10" y2="708.60" stroke="#000" stroke-width="2.2" stroke-linecap="butt"/>
<text transform="translate(911.38 733.65) scale(1 1.0)" font-size="17.00" fill="#000" stroke="#000" stroke-width="0.3">6.0</text>
<line x1="580.30" y1="702.20" x2="580.30" y2="706.40" stroke="#000" stroke-width="2.0" stroke-linecap="butt"/>
<line x1="656.70" y1="702.20" x2="656.70" y2="706.40" stroke="#000" stroke-width="2.0" stroke-linecap="butt"/>
<line x1="733.10" y1="702.20" x2="733.10" y2="706.40" stroke="#000" stroke-width="2.0" stroke-linecap="butt"/>
<line x1="809.50" y1="702.20" x2="809.50" y2="706.40" stroke="#000" stroke-width="2.0" stroke-linecap="butt"/>
<line x1="885.90" y1="702.20" x2="885.90" y2="706.40" stroke="#000" stroke-width="2.0" stroke-linecap="butt"/>
<text transform="translate(706.42 768.30) scale(1 1.0)" font-size="21.05" fill="#000" stroke="#000" stroke-width="0.3">distance (nm)</text>
<text x="0" y="0" font-size="20.6" text-anchor="middle" transform="translate(479.1 583.1) rotate(-90)" stroke="#000" stroke-width="0.3">P(r)</text>
<path d="M561.1 687.2L561.6 687.2L562.2 687.2L562.7 687.2L563.3 687.2L563.8 687.2L564.3 687.2L564.9 687.2L565.4 687.2L566.0 687.2L566.5 687.2L567.0 687.2L567.6 687.1L568.1 687.1L568.6 687.1L569.2 687.1L569.7 687.0L570.3 687.0L570.8 686.9L571.3 686.9L571.9 686.8L572.4 686.8L573.0 686.7L573.5 686.6L574.0 686.5L574.6 686.5L575.1 686.4L575.7 686.2L576.2 686.1L576.7 686.0L577.3 685.8L577.8 685.6L578.4 685.4L578.9 685.1L579.4 684.9L580.0 684.6L580.5 684.2L581.1 683.8L581.6 683.4L582.1 682.9L582.7 682.4L583.2 681.9L583.7 681.3L584.3 680.7L584.8 680.1L585.4 679.4L585.9 678.8L586.4 678.1L587.0 677.4L587.5 676.6L588.1 675.9L588.6 675.2L589.1 674.4L589.7 673.7L590.2 672.9L590.8 672.2L591.3 671.4L591.8 670.7L592.4 669.9L592.9 669.2L593.5 668.5L594.0 667.8L594.5 667.0L595.1 666.3L595.6 665.6L596.1 664.9L596.7 664.3L597.2 663.6L597.8 662.9L598.3 662.3L598.8 661.7L599.4 661.0L599.9 660.4L600.5 659.8L601.0 659.3L601.5 658.7L602.1 658.2L602.6 657.7L603.2 657.2L603.7 656.7L604.2 656.2L604.8 655.8L605.3 655.3L605.9 654.9L606.4 654.5L606.9 654.2L607.5 653.8L608.0 653.5L608.5 653.2L609.1 652.9L609.6 652.7L610.2 652.4L610.7 652.2L611.2 652.0L611.8 651.9L612.3 651.7L612.9 651.6L613.4 651.5L613.9 651.4L614.5 651.3L615.0 651.3L615.6 651.3L616.1 651.3L616.6 651.3L617.2 651.4L617.7 651.4L618.3 651.5L618.8 651.6L619.3 651.7L619.9 651.8L620.4 652.0L621.0 652.1L621.5 652.3L622.0 652.5L622.6 652.7L623.1 652.9L623.6 653.1L624.2 653.3L624.7 653.5L625.3 653.7L625.8 653.9L626.3 654.1L626.9 654.4L627.4 654.6L628.0 654.8L628.5 655.1L629.0 655.3L629.6 655.5L630.1 655.7L630.7 656.0L631.2 656.2L631.7 656.4L632.3 656.6L632.8 656.8L633.4 657.0L633.9 657.2L634.4 657.4L635.0 657.6L635.5 657.8L636.0 658.0L636.6 658.2L637.1 658.4L637.7 658.6L638.2 658.8L638.7 658.9L639.3 659.1L639.8 659.3L640.4 659.5L640.9 659.7L641.4 659.9L642.0 660.0L642.5 660.2L643.1 660.4L643.6 660.6L644.1 660.8L644.7 661.0L645.2 661.2L645.8 661.4L646.3 661.6L646.8 661.8L647.4 662.0L647.9 662.2L648.5 662.5L649.0 662.7L649.5 662.9L650.1 663.2L650.6 663.4L651.1 663.7L651.7 663.9L652.2 664.2L652.8 664.5L653.3 664.8L653.8 665.1L654.4 665.4L654.9 665.7L655.5 666.0L656.0 666.3L656.5 666.6L657.1 666.9L657.6 667.2L658.2 667.5L658.7 667.8L659.2 668.2L659.8 668.5L660.3 668.8L660.9 669.1L661.4 669.4L661.9 669.7L662.5 670.1L663.0 670.4L663.5 670.7L664.1 671.0L664.6 671.3L665.2 671.6L665.7 671.9L666.2 672.2L666.8 672.5L667.3 672.7L667.9 673.0L668.4 673.2L668.9 673.5L669.5 673.7L670.0 673.9L670.6 674.1L671.1 674.3L671.6 674.5L672.2 674.6L672.7 674.7L673.3 674.8L673.8 674.9L674.3 675.0L674.9 675.0L675.4 675.0L675.9 675.0L676.5 674.9L677.0 674.8L677.6 674.7L678.1 674.6L678.6 674.4L679.2 674.1L679.7 673.8L680.3 673.5L680.8 673.1L681.3 672.7L681.9 672.2L682.4 671.6L683.0 671.0L683.5 670.3L684.0 669.6L684.6 668.8L685.1 667.9L685.7 667.0L686.2 666.0L686.7 664.9L687.3 663.8L687.8 662.6L688.4 661.4L688.9 660.2L689.4 658.9L690.0 657.6L690.5 656.2L691.0 654.8L691.6 653.4L692.1 652.0L692.7 650.5L693.2 649.1L693.7 647.6L694.3 646.1L694.8 644.6L695.4 643.1L695.9 641.6L696.4 640.1L697.0 638.6L697.5 637.2L698.1 635.7L698.6 634.3L699.1 632.8L699.7 631.4L700.2 630.1L700.8 628.7L701.3 627.4L701.8 626.2L702.4 624.9L702.9 623.8L703.4 622.6L704.0 621.5L704.5 620.5L705.1 619.5L705.6 618.5L706.1 617.5L706.7 616.6L707.2 615.6L707.8 614.7L708.3 613.8L708.8 612.9L709.4 612.0L709.9 611.0L710.5 610.1L711.0 609.2L711.5 608.2L712.1 607.2L712.6 606.2L713.2 605.1L713.7 604.1L714.2 602.9L714.8 601.7L715.3 600.5L715.9 599.2L716.4 597.9L716.9 596.5L717.5 595.1L718.0 593.6L718.5 592.1L719.1 590.5L719.6 588.9L720.2 587.2L720.7 585.5L721.2 583.7L721.8 581.9L722.3 580.1L722.9 578.2L723.4 576.2L723.9 574.3L724.5 572.3L725.0 570.2L725.6 568.2L726.1 566.1L726.6 563.9L727.2 561.8L727.7 559.6L728.3 557.5L728.8 555.4L729.3 553.3L729.9 551.3L730.4 549.4L730.9 547.5L731.5 545.7L732.0 544.1L732.6 542.6L733.1 541.2L733.6 539.9L734.2 538.8L734.7 537.9L735.3 537.2L735.8 536.6L736.3 536.3L736.9 536.2L737.4 536.2L738.0 536.4L738.5 536.8L739.0 537.3L739.6 538.0L740.1 538.8L740.7 539.7L741.2 540.7L741.7 541.8L742.3 543.0L742.8 544.3L743.3 545.6L743.9 547.0L744.4 548.4L745.0 549.9L745.5 551.4L746.0 552.9L746.6 554.4L747.1 555.8L747.7 557.2L748.2 558.5L748.7 559.8L749.3 560.9L749.8 561.9L750.4 562.7L750.9 563.4L751.4 563.9L752.0 564.1L752.5 564.2L753.1 564.0L753.6 563.5L754.1 562.8L754.7 561.9L755.2 560.8L755.8 559.4L756.3 557.9L756.8 556.2L757.4 554.3L757.9 552.3L758.4 550.2L759.0 547.9L759.5 545.5L760.1 543.0L760.6 540.5L761.1 537.8L761.7 535.1L762.2 532.3L762.8 529.5L763.3 526.6L763.8 523.7L764.4 520.7L764.9 517.7L765.5 514.7L766.0 511.6L766.5 508.5L767.1 505.4L767.6 502.2L768.2 499.1L768.7 495.9L769.2 492.8L769.8 489.6L770.3 486.5L770.8 483.4L771.4 480.3L771.9 477.2L772.5 474.1L773.0 471.1L773.5 468.1L774.1 465.2L774.6 462.4L775.2 459.6L775.7 457.0L776.2 454.4L776.8 452.0L777.3 449.7L777.9 447.5L778.4 445.5L778.9 443.7L779.5 442.1L780.0 440.5L780.6 439.2L781.1 438.0L781.6 437.0L782.2 436.1L782.7 435.4L783.2 434.9L783.8 434.5L784.3 434.3L784.9 434.3L785.4 434.4L785.9 434.7L786.5 435.1L787.0 435.7L787.6 436.4L788.1 437.3L788.6 438.3L789.2 439.4L789.7 440.6L790.3 442.0L790.8 443.4L791.3 445.0L791.9 446.6L792.4 448.4L793.0 450.2L793.5 452.2L794.0 454.2L794.6 456.3L795.1 458.5L795.7 460.7L796.2 463.0L796.7 465.4L797.3 467.8L797.8 470.3L798.3 472.9L798.9 475.5L799.4 478.2L800.0 481.0L800.5 483.8L801.0 486.6L801.6 489.5L802.1 492.5L802.7 495.5L803.2 498.6L803.7 501.7L804.3 504.9L804.8 508.1L805.4 511.3L805.9 514.6L806.4 518.0L807.0 521.4L807.5 524.8L808.1 528.3L808.6 531.8L809.1 535.2L809.7 538.7L810.2 542.2L810.7 545.6L811.3 549.1L811.8 552.5L812.4 555.8L812.9 559.1L813.4 562.3L814.0 565.4L814.5 568.5L815.1 571.5L815.6 574.3L816.1 577.1L816.7 579.7L817.2 582.2L817.8 584.6L818.3 586.9L818.8 589.0L819.4 590.9L819.9 592.8L820.5 594.5L821.0 596.1L821.5 597.5L822.1 598.8L822.6 600.0L823.2 601.1L823.7 602.1L824.2 602.9L824.8 603.6L825.3 604.1L825.8 604.6L826.4 604.9L826.9 605.1L827.5 605.2L828.0 605.2L828.5 605.0L829.1 604.8L829.6 604.4L830.2 604.0L830.7 603.4L831.2 602.8L831.8 602.1L832.3 601.4L832.9 600.5L833.4 599.7L833.9 598.7L834.5 597.7L835.0 596.7L835.6 595.7L836.1 594.6L836.6 593.6L837.2 592.5L837.7 591.4L838.2 590.3L838.8 589.2L839.3 588.1L839.9 587.1L840.4 586.0L840.9 585.0L841.5 584.1L842.0 583.2L842.6 582.3L843.1 581.4L843.6 580.6L844.2 579.8L844.7 579.1L845.3 578.4L845.8 577.7L846.3 577.1L846.9 576.6L847.4 576.1L848.0 575.6L848.5 575.2L849.0 574.9L849.6 574.6L850.1 574.4L850.6 574.2L851.2 574.1L851.7 574.1L852.3 574.1L852.8 574.2L853.3 574.4L853.9 574.6L854.4 575.0L855.0 575.4L855.5 575.8L856.0 576.4L856.6 577.0L857.1 577.8L857.7 578.6L858.2 579.5L858.7 580.5L859.3 581.6L859.8 582.7L860.4 584.0L860.9 585.3L861.4 586.8L862.0 588.3L862.5 589.9L863.1 591.6L863.6 593.4L864.1 595.3L864.7 597.3L865.2 599.3L865.7 601.5L866.3 603.7L866.8 605.9L867.4 608.3L867.9 610.6L868.4 613.0L869.0 615.4L869.5 617.9L870.1 620.3L870.6 622.8L871.1 625.3L871.7 627.7L872.2 630.2L872.8 632.6L873.3 635.0L873.8 637.4L874.4 639.8L874.9 642.1L875.5 644.4L876.0 646.6L876.5 648.8L877.1 651.0L877.6 653.1L878.1 655.2L878.7 657.2L879.2 659.1L879.8 661.0L880.3 662.8L880.8 664.6L881.4 666.3L881.9 667.9L882.5 669.4L883.0 670.9L883.5 672.3L884.1 673.6L884.6 674.9L885.2 676.0L885.7 677.1L886.2 678.1L886.8 679.0L887.3 679.9L887.9 680.7L888.4 681.4L888.9 682.0L889.5 682.6L890.0 683.2L890.6 683.7L891.1 684.1L891.6 684.5L892.2 684.9L892.7 685.2L893.2 685.5L893.8 685.7L894.3 685.9L894.9 686.1L895.4 686.3L895.9 686.4L896.5 686.6L897.0 686.7L897.6 686.8L898.1 686.8L898.6 686.9L899.2 686.9L899.7 687.0L900.3 687.0L900.8 687.0L901.3 687.0L901.9 687.0L902.4 687.0L903.0 687.0L903.5 687.0L904.0 687.0L904.6 687.0L905.1 687.0L905.6 687.0L906.2 687.0L906.7 687.0L907.3 687.0L907.8 687.0L908.3 687.0L908.9 687.0L909.4 687.0L910.0 687.0L910.5 687.0L911.0 687.0L911.6 687.0L912.1 687.0L912.7 687.0L913.2 687.0L913.7 687.0L914.3 687.0L914.8 687.0L915.4 687.0L915.9 687.0L916.4 687.0L917.0 687.0L917.5 687.0L918.0 687.0L918.6 687.0L919.1 687.0L919.7 687.0L920.2 687.0L920.7 687.0L921.3 687.0L921.8 687.0L922.4 687.0L922.9 687.0L923.4 687.0L924.0 687.0L924.5 687.0L925.1 687.0L925.6 687.0L926.1 687.0L926.7 687.0L927.2 687.0L927.8 687.0L928.3 687.0L928.8 687.0L929.4 687.0L929.9 687.0L930.5 687.0L931.0 687.0L931.5 687.0L932.1 687.0L932.6 687.0L933.1 687.0L933.7 687.0L934.2 687.0L934.8 687.0L935.3 687.0L935.8 687.0L936.4 687.0L936.9 687.0L937.5 687.0L938.0 687.0" fill="none" stroke="#000" stroke-width="2.6" stroke-linejoin="round"/>
</svg>
</body></html>
